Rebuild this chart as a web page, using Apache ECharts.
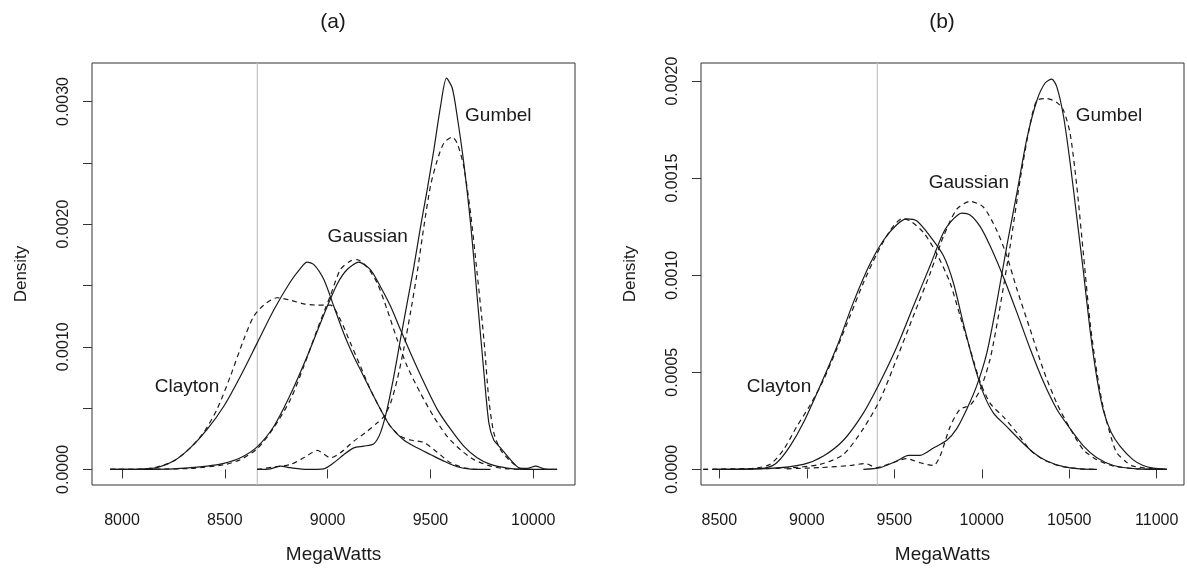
<!DOCTYPE html>
<html>
<head>
<meta charset="utf-8">
<script src="https://cdn.jsdelivr.net/npm/echarts@6/dist/echarts.min.js"></script>
<style>
  html, body { margin: 0; padding: 0; background: #fff; }
  #chart { width: 1187px; height: 571px; }
</style>
</head>
<body>
<div id="chart"></div>
<script>
// values: [MegaWatts, Density]
var aClaytonSolid = [[7943,0],[8089,0.000003],[8170,0.000014],[8251,0.000068],[8332,0.000176],[8414,0.000326],[8495,0.000515],[8576,0.00076],[8657,0.00103],[8738,0.0013],[8819,0.00153],[8868,0.00164],[8900,0.00169],[8933,0.00167],[8981,0.00155],[9030,0.00133],[9078,0.00111],[9127,0.00092],[9160,0.00081],[9208,0.00065],[9257,0.00049],[9306,0.00035],[9370,0.00024],[9435,0.000176],[9500,0.000122],[9565,0.000068],[9630,0.000022],[9695,0.000003],[9792,0]];
var aClaytonDash = [[7943,0],[8089,0],[8170,0.00002],[8251,0.000068],[8332,0.000176],[8397,0.0003],[8462,0.00049],[8527,0.00076],[8592,0.00106],[8641,0.00125],[8689,0.00134],[8754,0.0014],[8819,0.00138],[8884,0.00135],[8949,0.00134],[9014,0.00134],[9062,0.00122],[9111,0.00103],[9160,0.00084],[9208,0.00065],[9257,0.00049],[9306,0.00035],[9354,0.00027],[9403,0.00024],[9468,0.00022],[9533,0.00014],[9597,0.000054],[9662,0.000014],[9727,0]];
var aGaussSolid = [[7943,0],[8251,0.000005],[8414,0.000027],[8495,0.000049],[8576,0.000095],[8657,0.000184],[8738,0.00035],[8819,0.00061],[8900,0.00092],[8981,0.00126],[9046,0.00151],[9095,0.00163],[9151,0.00169],[9208,0.00163],[9257,0.00149],[9306,0.00133],[9354,0.00114],[9403,0.00095],[9468,0.00071],[9533,0.00049],[9597,0.00033],[9662,0.00019],[9727,0.000095],[9792,0.000041],[9873,0.000011],[9954,0],[10116,0]];
var aGaussDash = [[7943,0],[8332,0.000008],[8495,0.000038],[8576,0.00008],[8657,0.000168],[8738,0.00034],[8819,0.00057],[8884,0.00084],[8949,0.00114],[9014,0.00142],[9062,0.00163],[9111,0.0017],[9143,0.00171],[9192,0.00165],[9241,0.00152],[9290,0.0013],[9338,0.00106],[9387,0.00084],[9452,0.00062],[9516,0.00043],[9581,0.00027],[9646,0.00016],[9711,0.00008],[9792,0.000027],[9873,0.000005],[9954,0]];
var aGumbelSolid = [[8657,0],[8722,0.000005],[8770,0.000027],[8819,0.000014],[8900,0],[8981,0.000005],[9030,0.000054],[9078,0.00012],[9127,0.000176],[9176,0.00019],[9225,0.00021],[9257,0.0003],[9289,0.00049],[9322,0.00076],[9354,0.00106],[9387,0.00136],[9419,0.00165],[9452,0.00198],[9484,0.00228],[9516,0.0026],[9549,0.00296],[9578,0.00319],[9606,0.00311],[9630,0.00288],[9662,0.0025],[9695,0.00201],[9727,0.00141],[9760,0.00079],[9784,0.00038],[9808,0.00024],[9841,0.000176],[9889,0.00008],[9938,0.000008],[9970,0.000008],[10011,0.000027],[10052,0.000005],[10116,0]];
var aGumbelDash = [[8657,0],[8738,0.000019],[8819,0.00004],[8884,0.000095],[8949,0.000155],[9014,0.000095],[9062,0.000136],[9127,0.00023],[9192,0.00031],[9241,0.00038],[9273,0.00043],[9306,0.00054],[9338,0.00073],[9370,0.00098],[9403,0.00128],[9435,0.0016],[9468,0.00198],[9500,0.00231],[9533,0.00252],[9565,0.00266],[9606,0.00271],[9630,0.00266],[9662,0.00247],[9695,0.00209],[9727,0.0016],[9760,0.00106],[9784,0.00057],[9808,0.0003],[9841,0.00016],[9889,0.000068],[9938,0.000008],[10003,0]];

var bClaytonSolid = [[8466,0],[8694,0.000003],[8771,0.000009],[8828,0.000034],[8904,0.00012],[8980,0.00024],[9076,0.00043],[9171,0.00063],[9266,0.00086],[9362,0.00106],[9438,0.00118],[9514,0.00126],[9571,0.00129],[9628,0.00128],[9705,0.0012],[9781,0.0011],[9838,0.00096],[9895,0.00075],[9953,0.00055],[10010,0.00039],[10067,0.00029],[10143,0.00022],[10219,0.00015],[10296,0.000086],[10372,0.000043],[10467,0.000014],[10562,0.000003],[10658,0]];
var bClaytonDash = [[8408,0],[8694,0.000005],[8790,0.000026],[8866,0.0001],[8942,0.00022],[9018,0.00033],[9095,0.00046],[9171,0.00062],[9247,0.00079],[9323,0.00096],[9400,0.00111],[9476,0.00123],[9543,0.00129],[9590,0.00128],[9667,0.00122],[9743,0.00111],[9819,0.00096],[9876,0.00079],[9933,0.00062],[9991,0.00045],[10048,0.00034],[10124,0.00027],[10200,0.00019],[10277,0.0001],[10353,0.00005],[10448,0.000017],[10562,0.000003],[10658,0]];
var bGaussSolid = [[8466,0],[8790,0.000005],[8980,0.000026],[9095,0.000069],[9209,0.00015],[9323,0.00029],[9419,0.00045],[9514,0.00063],[9609,0.00084],[9705,0.00105],[9781,0.00122],[9838,0.00129],[9886,0.00132],[9933,0.00131],[9991,0.00125],[10048,0.00115],[10124,0.00099],[10200,0.00081],[10277,0.00062],[10353,0.00045],[10429,0.00031],[10505,0.00021],[10582,0.00012],[10658,0.00006],[10753,0.00002],[10887,0.000003],[11058,0]];
var bGaussDash = [[8408,0],[8885,0.000007],[9076,0.000026],[9209,0.000077],[9323,0.00021],[9419,0.00036],[9514,0.00057],[9609,0.00079],[9705,0.00101],[9781,0.0012],[9857,0.00134],[9933,0.00138],[10010,0.00135],[10086,0.00123],[10143,0.0011],[10200,0.00093],[10277,0.00072],[10353,0.00051],[10429,0.00034],[10505,0.00021],[10582,0.0001],[10658,0.00005],[10753,0.000017],[10887,0.000003],[11058,0]];
var bGumbelSolid = [[9323,0],[9419,0.000009],[9514,0.000043],[9581,0.000072],[9648,0.000072],[9724,0.00011],[9800,0.00015],[9857,0.00021],[9914,0.00031],[9971,0.00043],[10029,0.0006],[10086,0.00086],[10143,0.00115],[10200,0.00142],[10257,0.0017],[10315,0.0019],[10362,0.00199],[10400,0.00201],[10429,0.00197],[10467,0.00182],[10505,0.00158],[10543,0.0013],[10582,0.00101],[10620,0.00071],[10658,0.00047],[10696,0.0003],[10740,0.00019],[10790,0.00012],[10864,0.00005],[10922,0.00002],[10982,0.000006],[11058,0]];
var bGumbelDash = [[8885,0.000003],[9076,0.000009],[9247,0.00002],[9333,0.00003],[9400,0.000009],[9476,0.00003],[9571,0.000055],[9648,0.000034],[9724,0.00002],[9762,0.000069],[9819,0.00022],[9876,0.00031],[9933,0.00033],[9991,0.00041],[10048,0.00057],[10105,0.00084],[10162,0.00115],[10219,0.00149],[10277,0.00178],[10315,0.0019],[10372,0.00191],[10429,0.00189],[10467,0.00185],[10505,0.00173],[10543,0.00146],[10582,0.0011],[10620,0.00075],[10658,0.0005],[10696,0.00031],[10743,0.000154],[10771,0.000087],[10828,0.000036],[10864,0.000017],[10950,0.000005],[11058,0]];

var aRefLine = 8658;
var bRefLine = 9403;

var aXTicks = [8000, 8500, 9000, 9500, 10000];
var bXTicks = [8500, 9000, 9500, 10000, 10500, 11000];
var aYTicks = [0, 0.0005, 0.001, 0.0015, 0.002, 0.0025, 0.003];
var aYLabels = [0, 0.001, 0.002, 0.003];
var bYTicks = [0, 0.0005, 0.001, 0.0015, 0.002];

var aNotes = [['Clayton', 8316, 0.000678], ['Gaussian', 9195, 0.0019], ['Gumbel', 9830, 0.00288]];
var bNotes = [['Clayton', 8841, 0.000428], ['Gaussian', 9926, 0.001474], ['Gumbel', 10727, 0.00182]];

var FONT = '"Liberation Sans", Arial, Helvetica, sans-serif';
var INK = '#1a1a1a';

var chart = echarts.init(document.getElementById('chart'));

function xAxisFor(idx, min, max, ticks) {
  return {
    type: 'value', gridIndex: idx, min: min, max: max,
    name: 'MegaWatts', nameLocation: 'middle', nameGap: 60,
    nameTextStyle: { fontFamily: FONT, fontSize: 19, color: INK },
    axisLine: { show: false },
    splitLine: { show: false },
    axisTick: { show: true, inside: false, length: 9, customValues: ticks, lineStyle: { color: '#333' } },
    axisLabel: {
      customValues: ticks, margin: 28, fontFamily: FONT, fontSize: 16, color: INK,
      formatter: function (v) { return String(v); }
    }
  };
}

function yAxisFor(idx, min, max, ticks, labels) {
  return {
    type: 'value', gridIndex: idx, min: min, max: max,
    name: 'Density', nameLocation: 'middle', nameGap: 62, nameRotate: 90,
    nameTextStyle: { fontFamily: FONT, fontSize: 17, color: INK },
    axisLine: { show: false },
    splitLine: { show: false },
    axisTick: { show: true, inside: false, length: 9, customValues: ticks, lineStyle: { color: '#333' } },
    axisLabel: {
      customValues: labels, rotate: 90, margin: 20, fontFamily: FONT, fontSize: 16, color: INK,
      formatter: function (v) { return v.toFixed(4); }
    }
  };
}

function curve(idx, data, dashed) {
  return {
    type: 'line', xAxisIndex: idx, yAxisIndex: idx, data: data,
    showSymbol: false, smooth: 0.25, silent: true, z: 3,
    lineStyle: { color: INK, width: 1.2, type: dashed ? [5, 4] : 'solid' }
  };
}

function refLine(idx, x, ymin, ymax) {
  return {
    type: 'line', xAxisIndex: idx, yAxisIndex: idx, data: [[x, ymin], [x, ymax]],
    showSymbol: false, silent: true, z: 1,
    lineStyle: { color: '#c4c4c4', width: 1.2 }
  };
}

// text annotations placed at data positions
function notes(idx, list) {
  return {
    type: 'scatter', xAxisIndex: idx, yAxisIndex: idx, symbolSize: 0, z: 4, silent: true,
    itemStyle: { color: INK },
    data: list.map(function (n) { return { name: n[0], value: [n[1], n[2]] }; }),
    label: {
      show: true, position: 'inside', formatter: '{b}', fontFamily: FONT, fontSize: 19,
      color: INK, textBorderWidth: 0, opacity: 1
    }
  };
}

var aYMin = -0.000127, aYMax = 0.003314;
var bYMin = -0.0000805, bYMax = 0.002093;

var option = {
  animation: false,
  backgroundColor: '#fff',
  grid: [
    { left: 92, top: 63, width: 483, height: 422, show: true, borderColor: '#333', borderWidth: 1, backgroundColor: 'transparent', outerBoundsMode: 'none' },
    { left: 701, top: 63, width: 483, height: 422, show: true, borderColor: '#333', borderWidth: 1, backgroundColor: 'transparent', outerBoundsMode: 'none' }
  ],
  xAxis: [
    xAxisFor(0, 7854, 10203, aXTicks),
    xAxisFor(1, 8395, 11156, bXTicks)
  ],
  yAxis: [
    yAxisFor(0, aYMin, aYMax, aYTicks, aYLabels),
    yAxisFor(1, bYMin, bYMax, bYTicks, bYTicks)
  ],
  graphic: [
    { type: 'text', x: 333, y: 22, style: { text: '(a)', fontFamily: FONT, fontSize: 21, fill: INK, align: 'center', verticalAlign: 'middle' } },
    { type: 'text', x: 942, y: 22, style: { text: '(b)', fontFamily: FONT, fontSize: 21, fill: INK, align: 'center', verticalAlign: 'middle' } }
  ],
  series: [
    refLine(0, aRefLine, aYMin, aYMax),
    curve(0, aClaytonSolid, false),
    curve(0, aClaytonDash, true),
    curve(0, aGaussSolid, false),
    curve(0, aGaussDash, true),
    curve(0, aGumbelSolid, false),
    curve(0, aGumbelDash, true),
    notes(0, aNotes),
    refLine(1, bRefLine, bYMin, bYMax),
    curve(1, bClaytonSolid, false),
    curve(1, bClaytonDash, true),
    curve(1, bGaussSolid, false),
    curve(1, bGaussDash, true),
    curve(1, bGumbelSolid, false),
    curve(1, bGumbelDash, true),
    notes(1, bNotes)
  ]
};

chart.setOption(option);
</script>
</body>
</html>
